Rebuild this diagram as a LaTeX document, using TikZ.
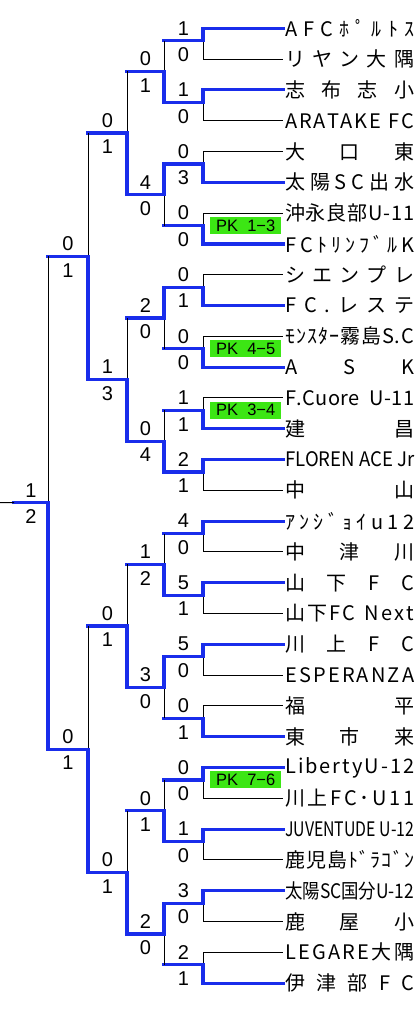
\documentclass[tikz,border=0pt]{standalone}
\usepackage{fontspec}
\setmainfont{Liberation Sans}
\newfontfamily\jpfont{Noto Sans CJK JP}
\usetikzlibrary{positioning, calc}

\definecolor{winblue}{RGB}{25,45,235}
\definecolor{pkgreen}{RGB}{60,230,20}

% team names are fitted to one width: spread when short, squeezed when long
\newsavebox\namebox
\newlength\namew
\setlength\namew{129pt}
\def\spreadnext#1{\ifx#1\relax\else#1\hfill\expandafter\spreadnext\fi}
\newcommand\teamnamex[1]{\sbox\namebox{#1}%
  \ifdim\wd\namebox>\namew\resizebox{\namew}{\height}{\usebox\namebox}%
  \else\makebox[\namew][s]{\spreadnext#1\relax\unskip}\fi}
\newcommand\teamname[1]{\expandafter\teamnamex\expandafter{#1}}

\begin{document}
\begin{tikzpicture}[x=1pt, y=-1pt,
		win/.style={draw=winblue, line width=3.2pt, line cap=rect},
		lose/.style={draw=black, line width=1pt},
		team/.style={anchor=west, inner sep=0pt, font=\jpfont\fontsize{20pt}{22pt}\selectfont},
		score/.style={inner sep=0pt, font=\fontsize{20pt}{22pt}\selectfont},
		pk/.style={fill=pkgreen, anchor=west, minimum width=71pt, minimum height=17pt, inner sep=1pt, font=\fontsize{16.5pt}{17pt}\selectfont}
		]
		\useasboundingbox (0,0) rectangle (420,1022);

		% teams
		\foreach \i/\name in {0/AFCﾎﾟﾙﾄｽ, 1/リヤン大隅, 2/志布志小, 3/ARATAKE~FC,
			4/大口東, 5/太陽SC出水, 6/沖永良部U-11, 7/FCﾄﾘﾝﾌﾞﾙK,
			8/シエンプレ, 9/FC.レステ, 10/ﾓﾝｽﾀｰ霧島S.C, 11/ASK,
			12/F.Cuore~~U-11, 13/建昌, 14/FLOREN~ACE~Jr, 15/中山,
			16/ｱﾝｼﾞｮｲu12, 17/中津川, 18/山下FC, 19/山下FC~Next,
			20/川上FC, 21/ESPERANZA, 22/福平, 23/東市来,
			24/LibertyU-12, 25/川上FC･U11, 26/JUVENTUDE~U-12, 27/鹿児島ﾄﾞﾗｺﾞﾝ,
			28/太陽SC国分U-12, 29/鹿屋小, 30/LEGARE大隅, 31/伊津部FC} {
			\coordinate (t\i) at (203, {28.3+30.8*\i});
			\node[team] (n\i) at (285, {28.3+30.8*\i}) {\teamname{\name}};
		}

		% matches: round/match/upper score/lower score/lower team wins
		\foreach \L/\k/\sa/\sb/\w in {1/0/1/0/0, 1/1/1/0/0, 1/2/0/3/1, 1/3/0/0/1,
			1/4/0/1/1, 1/5/0/0/1, 1/6/1/1/1, 1/7/2/1/0,
			1/8/4/0/0, 1/9/5/1/0, 1/10/5/0/0, 1/11/0/1/1,
			1/12/0/0/0, 1/13/1/0/0, 1/14/3/0/0, 1/15/2/1/1,
			2/0/0/1/1, 2/1/4/0/0, 2/2/2/0/0, 2/3/0/4/1,
			2/4/1/2/1, 2/5/3/0/0, 2/6/0/1/1, 2/7/2/0/0,
			3/0/0/1/1, 3/1/1/3/1, 3/2/0/1/1, 3/3/0/1/1,
			4/0/0/1/1, 4/1/0/1/1,
			5/0/1/2/1} {
			\pgfmathsetmacro\ym{28.3+30.8*(2^(\L-1)*(2*\k+1)-0.5)-3}
			\pgfmathsetmacro\xr{{203,164,127,88,48}[\L-1]}
			\pgfmathsetmacro\xl{{164,127,88,48,14}[\L-1]}
			\pgfmathtruncatemacro\wi{2*\k+\w}
			\pgfmathtruncatemacro\li{2*\k+1-\w}
			\pgfmathtruncatemacro\Lp{\L-1}
			\coordinate (m\L-\k) at (\xr,\ym);
			\coordinate (e\L-\k) at (\xl,\ym);
			\ifnum\L=1 \edef\winr{t\wi}\edef\losr{t\li}\else\edef\winr{e\Lp-\wi}\edef\losr{e\Lp-\li}\fi
			\ifnum\L=1
				\draw[lose] (t\li) -- ([xshift=-2pt]n\li.west);
				\draw[win] (t\wi) -- ([xshift=-2pt]n\wi.west);
			\fi
			\draw[lose] (m\L-\k) -- (\losr);
			\draw[win] (e\L-\k) -- (m\L-\k) -- (\winr);
			\node[score] (sa\L-\k) at ($(e\L-\k)!.5!(m\L-\k)+(0,-12.5)$) {\sa};
			\node[score] (sb\L-\k) at ($(e\L-\k)!.5!(m\L-\k)+(0,14)$) {\sb};
		}

		\coordinate (champ) at (0,502.7);
		\draw[lose] (champ) -- (e5-0);

		% penalty shoot-outs
		\node[pk] (pk3) at ([xshift=7pt]m1-3) {PK\ \ 1−3};
		\node[pk] (pk5) at ([xshift=7pt]m1-5) {PK\ \ 4−5};
		\node[pk] (pk6) at ([xshift=7pt]m1-6) {PK\ \ 3−4};
		\node[pk] (pk12) at ([xshift=7pt]m1-12) {PK\ \ 7−6};
	\end{tikzpicture}
\end{document}
